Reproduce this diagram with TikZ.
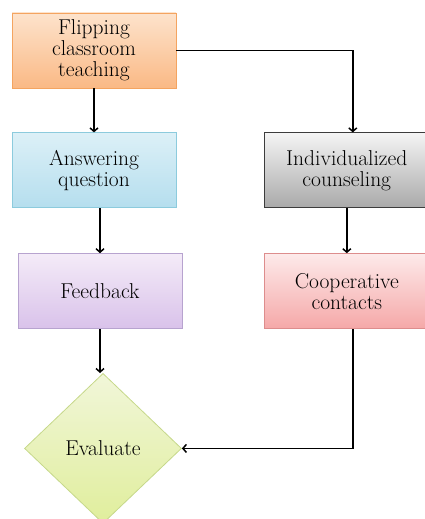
\documentclass[tikz,border=0pt]{standalone}
\usepackage{xcolor}
\usepackage{tikz}
\usetikzlibrary{shapes,arrows,arrows.meta,positioning}

\definecolor{orgtop}{HTML}{FDE3CC}
\definecolor{orgbot}{HTML}{FAB985}
\definecolor{orgline}{HTML}{F4A460}
\definecolor{blutop}{HTML}{DCF0F7}
\definecolor{blubot}{HTML}{B5DEEE}
\definecolor{bluline}{HTML}{8CCBDD}
\definecolor{grytop}{HTML}{F4F4F4}
\definecolor{grybot}{HTML}{A9A9A9}
\definecolor{gryline}{HTML}{3C3C3C}
\definecolor{lavtop}{HTML}{F4EBF8}
\definecolor{lavbot}{HTML}{D9C2EA}
\definecolor{lavline}{HTML}{B7A3CF}
\definecolor{pnktop}{HTML}{FDEAEA}
\definecolor{pnkbot}{HTML}{F5A8A8}
\definecolor{pnkline}{HTML}{DD8D8D}
\definecolor{grntop}{HTML}{F1F6D9}
\definecolor{grnbot}{HTML}{E0EE9C}
\definecolor{grnline}{HTML}{C6D88A}

\begin{document}
\begin{tikzpicture}[
    x=1pt, y=1pt,
    node distance=44pt,
    block/.style={rectangle, draw, line width=0.8pt, minimum width=164pt, minimum height=75pt, align=center, font=\fontsize{21.5}{21}\selectfont},
    decide/.style={diamond, draw, line width=0.8pt, inner sep=0pt, minimum width=157pt, minimum height=150pt, font=\fontsize{21.5}{21}\selectfont},
    line/.style={draw, line width=1.5pt, -{Straight Barb[length=3.5pt, width=8pt]}}
]
\useasboundingbox (0,0) rectangle (425,-519);

\node [block, top color=orgtop, bottom color=orgbot, draw=orgline] at (94,-50.5) (flip) {Flipping\\classroom\\teaching};
\node [block, top color=blutop, bottom color=blubot, draw=bluline, below=of flip] (answer) {Answering\\question};
\node [block, top color=lavtop, bottom color=lavbot, draw=lavline, below=45pt of answer, xshift=6pt] (feedback) {Feedback};
\node [decide, top color=grntop, bottom color=grnbot, draw=grnline, below=44pt of feedback, xshift=3pt] (evaluate) {Evaluate};
\node [block, top color=grytop, bottom color=grybot, draw=gryline, right=88pt of answer] (indiv) {Individualized\\counseling};
\node [block, top color=pnktop, bottom color=pnkbot, draw=pnkline, below=45pt of indiv] (coop) {Cooperative\\contacts};

\path [line] (flip) -- (answer);
\path [line] (flip.east) -| ([xshift=6pt]indiv.north);
\path [line] (feedback.north |- answer.south) -- (feedback);
\path [line] (indiv) -- (coop);
\path [line] (feedback) -- (feedback |- evaluate.north);
\path [line] ([xshift=6pt]coop.south) |- (evaluate.east);

\end{tikzpicture}
\end{document}
